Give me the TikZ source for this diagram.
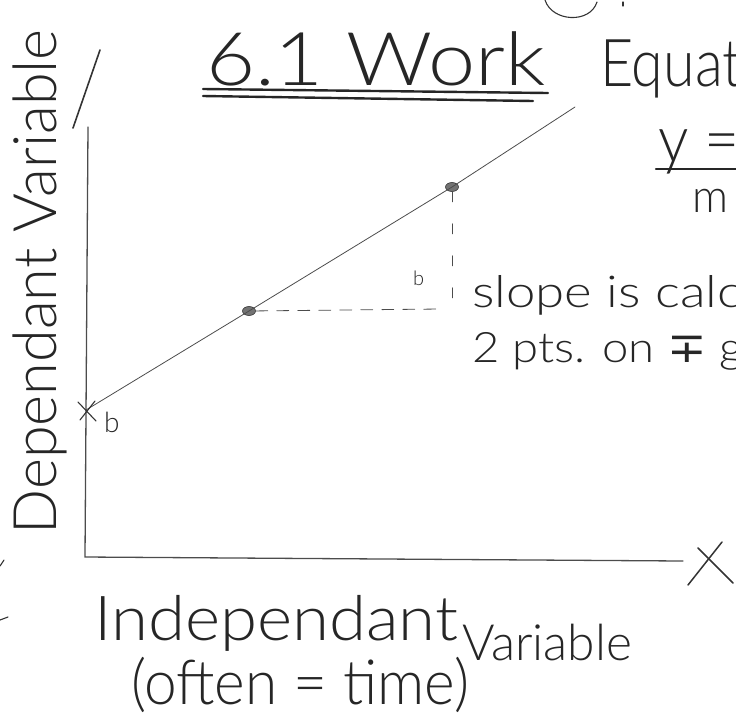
\documentclass[tikz,border=0pt]{standalone}
\usepackage{fontspec}
\setmainfont{Lato Light}
\newfontfamily\dejavu{DejaVu Sans}
\usepackage{graphicx}
\usetikzlibrary{shapes.geometric}
\newcommand\hwtext[3]{\resizebox{#1pt}{\height}{\fontsize{#2}{#2}\selectfont #3}}
\tikzset{
  hw/.style={inner sep=0pt, outer sep=0pt, anchor=north west, text=black!85},
  ink/.style={line width=1.1pt, draw=black!80, line cap=round},
  axis/.style={line width=1.3pt, draw=black!70, line cap=round},
  thin/.style={line width=0.8pt, draw=black!70, line cap=round},
  dot/.style={ellipse, fill=black!55, draw=black!80, line width=0.6pt, minimum width=13pt, minimum height=9pt, inner sep=0pt},
  uline/.style={line width=2.4pt, draw=black!85, line cap=round},
}
\begin{document}
\begin{tikzpicture}[x=1pt,y=-1pt]
\useasboundingbox (0,0) rectangle (736,724);

% axes
\coordinate (ytop) at (88,127);
\coordinate (orig) at (85,557);
\coordinate (xend) at (683,561);
\draw[axis] (ytop) -- (orig) -- (xend);

% slope line and points
\coordinate (b0) at (86,410);
\coordinate (ltop) at (575,107);
\node[dot] (p1) at (249,311) {};
\node[dot] (p2) at (452,187) {};
\draw[thin] (b0) -- (p1.center) -- (p2.center) -- (ltop);

% cross at intercept
\coordinate (c1) at (78,402);
\coordinate (c2) at (96,421);
\coordinate (c3) at (80,420);
\coordinate (c4) at (95,401);
\draw[ink] (c1) -- (c2);
\draw[ink] (c3) -- (c4);
\node[hw, font=\fontsize{28}{28}\selectfont] (bint) at (104,412) {b};

% dashed rise / run
\coordinate (hend) at (440,309);
\coordinate (vend) at (452,300);
\draw[thin, dash pattern=on 12pt off 9pt] (p1) -- (hend);
\draw[thin, dash pattern=on 10pt off 22pt] (p2) -- (vend);
\node[hw, font=\fontsize{20}{20}\selectfont] (bmid) at (413,271) {b};

% title
\node[hw, anchor=south west] (title) at (206,86) {\hwtext{340}{74}{6.1 Work}};
\coordinate (u1a) at (203,89);
\coordinate (u1b) at (548,93);
\coordinate (u2a) at (203,96);
\coordinate (u2b) at (533,101);
\draw[uline] (u1a) -- (u1b);
\draw[uline] (u2a) -- (u2b);

\node[hw, anchor=base west] (equat) at (600,86) {\hwtext{142}{66}{Equat}};

% top arc fragment
\coordinate (arcA) at (545,0);
\coordinate (arcB) at (597,2);
\draw[ink] (arcA) .. controls (552,22) and (590,24) .. (arcB);
\coordinate (dotA) at (623,2);
\coordinate (dotB) at (623,6);
\draw[ink] (dotA) -- (dotB);

% y = / m
\node[hw, anchor=base west] (yeq) at (658,162) {\hwtext{82}{66}{y =}};
\coordinate (fa) at (656,169);
\coordinate (fb) at (736,169);
\draw[uline] (fa) -- (fb);
\node[hw, anchor=base west] (m) at (692,212) {\hwtext{36}{46}{m}};

% slope text
\node[hw, anchor=base west] (slope) at (472,307) {\hwtext{270}{44}{slope is calc}};
\node[hw, anchor=base west] (pts) at (472,362) {\hwtext{272}{42}{2 pts. on {\dejavu ∓} g}};

% vertical axis label
\node[inner sep=0pt, text=black!85, rotate=90, anchor=base] (dep) at (56,282) {\hwtext{505}{60}{Dependant Variable}};
\coordinate (slA) at (100,50);
\coordinate (slB) at (73,128);
\draw[ink, line width=1.6pt] (slA) -- (slB);

% horizontal axis label
\node[hw, anchor=base west] (indep) at (94,640) {\hwtext{364}{62}{Independant}};
\node[hw, anchor=base west] (var) at (462,660) {\hwtext{170}{50}{Variable}};
\node[hw, anchor=base west] (often) at (131,704) {\hwtext{338}{62}{(often = time)}};

% X
\coordinate (xa) at (698,548);
\coordinate (xb) at (733,583);
\coordinate (xc) at (722,542);
\coordinate (xd) at (688,585);
\draw[ink, line width=1.5pt] (xa) -- (xb);
\draw[ink, line width=1.5pt] (xc) -- (xd);

% left-edge fragments
\coordinate (e1) at (0,566);
\coordinate (e2) at (4,560);
\coordinate (e3) at (0,620);
\coordinate (e4) at (8,617);
\draw[ink] (e1) -- (e2);
\draw[ink] (e3) -- (e4);
\end{tikzpicture}
\end{document}
